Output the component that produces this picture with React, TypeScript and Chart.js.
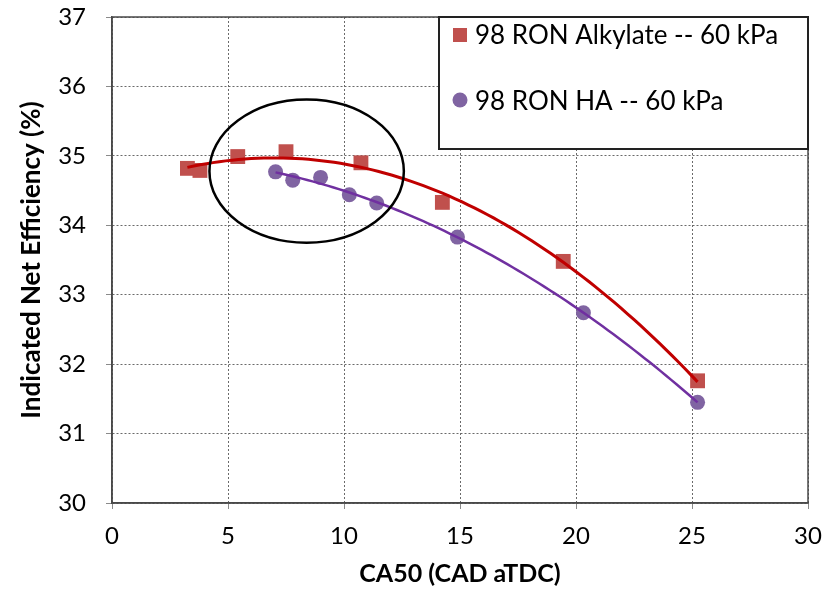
import React, { useEffect, useRef } from "react";
import { Chart, registerables } from "chart.js";

Chart.register(...registerables);

const alkylateX = [3.25, 3.79, 5.42, 7.5, 10.73, 14.24, 19.45, 25.24];
const alkylateY = [34.82, 34.79, 34.99, 35.06, 34.9, 34.33, 33.48, 31.76];
const haX = [7.05, 7.79, 8.99, 10.23, 11.41, 14.89, 20.32, 25.24];
const haY = [34.77, 34.65, 34.69, 34.44, 34.32, 33.83, 32.74, 31.45];

const alkylateLabel = "98 RON Alkylate -- 60 kPa";
const haLabel = "98 RON HA -- 60 kPa";
const xTitle = "CA50 (CAD aTDC)";
const yTitle = "Indicated Net Efficiency (%)";

// highlighted region (data units): center x, center y, half-width, half-height
const ellipseCenter = [8.39, 34.78];
const ellipseRadii = [4.19, 1.03];

const FONT = "Lato, 'Liberation Sans', sans-serif";

// Excel-style 2nd order polynomial trendline (least squares)
function quadFit(xs: number[], ys: number[]) {
  let s0 = 0, s1 = 0, s2 = 0, s3 = 0, s4 = 0, t0 = 0, t1 = 0, t2 = 0;
  for (let i = 0; i < xs.length; i++) {
    const x = xs[i], y = ys[i];
    s0 += 1; s1 += x; s2 += x * x; s3 += x * x * x; s4 += x * x * x * x;
    t0 += y; t1 += x * y; t2 += x * x * y;
  }
  const M = [
    [s0, s1, s2, t0],
    [s1, s2, s3, t1],
    [s2, s3, s4, t2],
  ];
  for (let c = 0; c < 3; c++) {
    let p = c;
    for (let r = c + 1; r < 3; r++) if (Math.abs(M[r][c]) > Math.abs(M[p][c])) p = r;
    [M[c], M[p]] = [M[p], M[c]];
    for (let r = 0; r < 3; r++) {
      if (r === c) continue;
      const f = M[r][c] / M[c][c];
      for (let k = c; k < 4; k++) M[r][k] -= f * M[c][k];
    }
  }
  const a = M[0][3] / M[0][0], b = M[1][3] / M[1][1], cc = M[2][3] / M[2][2];
  const lo = Math.min(...xs), hi = Math.max(...xs);
  const pts: { x: number; y: number }[] = [];
  const n = 80;
  for (let i = 0; i <= n; i++) {
    const x = lo + ((hi - lo) * i) / n;
    pts.push({ x, y: a + b * x + cc * x * x });
  }
  return pts;
}

const overlayPlugin = {
  id: "overlay",
  afterDatasetsDraw(chart: any) {
    const { ctx, chartArea, scales } = chart;
    const xs = scales.x, ys = scales.y;
    ctx.save();
    // frame
    ctx.setLineDash([]);
    ctx.strokeStyle = "#4a4a4a";
    ctx.lineWidth = 1.5;
    ctx.strokeRect(chartArea.left, chartArea.top, chartArea.right - chartArea.left, chartArea.bottom - chartArea.top);

    // ellipse
    const cx = xs.getPixelForValue(ellipseCenter[0]);
    const cy = ys.getPixelForValue(ellipseCenter[1]);
    const rx = Math.abs(xs.getPixelForValue(ellipseCenter[0] + ellipseRadii[0]) - cx);
    const ry = Math.abs(ys.getPixelForValue(ellipseCenter[1] + ellipseRadii[1]) - cy);
    ctx.beginPath();
    ctx.ellipse(cx, cy, rx, ry, 0, 0, Math.PI * 2);
    ctx.strokeStyle = "#000";
    ctx.lineWidth = 2.5;
    ctx.stroke();

    // legend box in the top-right corner of the plot
    const bw = 369, bh = 132;
    const bx = chartArea.right - bw, by = chartArea.top;
    ctx.fillStyle = "#fff";
    ctx.fillRect(bx, by, bw, bh);
    ctx.strokeStyle = "#222";
    ctx.lineWidth = 2;
    ctx.strokeRect(bx, by, bw, bh);

    ctx.font = `26px ${FONT}`;
    ctx.textBaseline = "middle";
    ctx.textAlign = "left";
    // item 1
    ctx.fillStyle = "#C0504D";
    ctx.fillRect(bx + 14, by + 11, 14, 14);
    ctx.fillStyle = "#000";
    ctx.fillText(alkylateLabel, bx + 36, by + 19);
    // item 2
    ctx.fillStyle = "#8064A2";
    ctx.beginPath();
    ctx.arc(bx + 21, by + 83, 7.5, 0, Math.PI * 2);
    ctx.fill();
    ctx.fillStyle = "#000";
    ctx.fillText(haLabel, bx + 36, by + 85);
    ctx.restore();
  },
};

export default function App() {
  const ref = useRef<HTMLCanvasElement | null>(null);

  useEffect(() => {
    if (!ref.current) return;
    const chart = new Chart(ref.current, {
      type: "scatter",
      data: {
        datasets: [
          {
            type: "line",
            label: alkylateLabel + " trend",
            data: quadFit(alkylateX, alkylateY),
            borderColor: "#C00000",
            borderWidth: 3,
            pointRadius: 0,
            fill: false,
            order: 1,
          },
          {
            type: "line",
            label: haLabel + " trend",
            data: quadFit(haX, haY),
            borderColor: "#7030A0",
            borderWidth: 2.5,
            pointRadius: 0,
            fill: false,
            order: 2,
          },
          {
            label: alkylateLabel,
            data: alkylateX.map((x, i) => ({ x, y: alkylateY[i] })),
            pointStyle: "rect",
            pointRadius: 10.5,
            backgroundColor: "#C0504D",
            borderColor: "#C0504D",
            borderWidth: 0,
            order: 3,
          },
          {
            label: haLabel,
            data: haX.map((x, i) => ({ x, y: haY[i] })),
            pointStyle: "circle",
            pointRadius: 7.5,
            backgroundColor: "#8064A2",
            borderColor: "#8064A2",
            borderWidth: 0,
            order: 4,
          },
        ],
      },
      options: {
        responsive: false,
        animation: false,
        layout: { padding: { top: 17, right: 25, left: 0, bottom: 0 } },
        plugins: {
          legend: { display: false },
          tooltip: { enabled: false },
        },
        scales: {
          x: {
            type: "linear",
            min: 0,
            max: 30,
            ticks: { stepSize: 5, color: "#000", padding: 13, font: { family: FONT, size: 24 } },
            grid: {
              color: "#6a6a6a",
              lineWidth: 1,
              tickLength: 6,
              tickColor: "#8a8a8a",
            },
            border: { display: true, color: "#4a4a4a", width: 1.5, dash: [2, 2] },
            title: {
              display: true,
              text: xTitle,
              color: "#000",
              font: { family: FONT, size: 25, weight: "bold" },
              padding: { top: 0, bottom: 2 },
            },
            afterFit(scale: any) {
              scale.height = 88;
              scale.paddingLeft = 0;
              scale.paddingRight = 0;
            },
          },
          y: {
            type: "linear",
            min: 30,
            max: 37,
            ticks: { stepSize: 1, color: "#000", padding: 20, font: { family: FONT, size: 24 } },
            grid: {
              color: "#6a6a6a",
              lineWidth: 1,
              tickLength: 6,
              tickColor: "#8a8a8a",
            },
            border: { display: true, color: "#4a4a4a", width: 1.5, dash: [2, 2] },
            title: {
              display: true,
              text: yTitle,
              color: "#000",
              font: { family: FONT, size: 26, weight: "bold" },
              padding: { top: 16, bottom: 0 },
            },
            afterFit(scale: any) {
              scale.width = 112;
              scale.paddingTop = 0;
              scale.paddingBottom = 0;
            },
          },
        },
      },
      plugins: [overlayPlugin],
    } as any);
    return () => chart.destroy();
  }, []);

  return (
    <div style={{ position: "fixed", left: 0, top: 0, width: 833, height: 591, background: "#fff" }}>
      <canvas ref={ref} width={833} height={591} style={{ width: 833, height: 591 }} />
    </div>
  );
}
